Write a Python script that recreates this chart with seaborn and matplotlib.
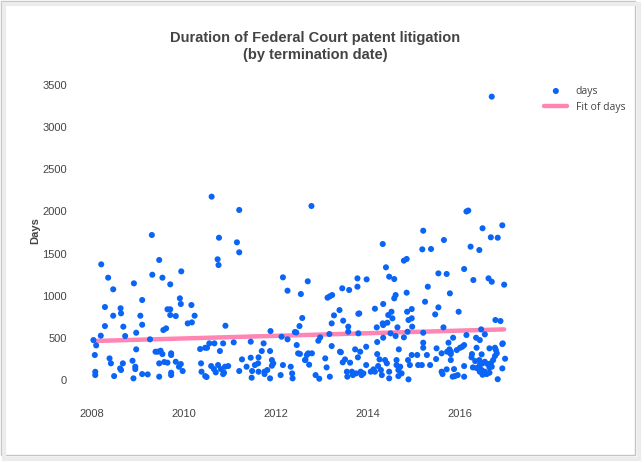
import matplotlib
matplotlib.use("Agg")
import matplotlib.pyplot as plt
import seaborn as sns
import pandas as pd
from matplotlib.patches import Rectangle

# termination date (decimal year) and duration in days
term_year = [
    2008.03, 2008.06, 2008.09, 2008.07, 2008.07, 2008.19, 2008.20, 2008.28, 2008.28, 2008.35,
    2008.38, 2008.41, 2008.46, 2008.46, 2008.48, 2008.61, 2008.62, 2008.63, 2008.63, 2008.68,
    2008.67, 2008.72, 2008.88, 2008.91, 2008.90, 2008.94, 2008.94, 2008.96, 2008.96, 2009.05,
    2009.09, 2009.09, 2009.09, 2009.21, 2009.26, 2009.30, 2009.31, 2009.38, 2009.43, 2009.46,
    2009.46, 2009.46, 2009.49, 2009.53, 2009.53, 2009.55, 2009.57, 2009.61, 2009.64, 2009.64,
    2009.70, 2009.70, 2009.70, 2009.72, 2009.72, 2009.72, 2009.72, 2009.82, 2009.82, 2009.89,
    2009.94, 2009.91, 2009.93, 2009.93, 2009.97, 2010.08, 2010.17, 2010.16, 2010.23, 2010.35,
    2010.37, 2010.38, 2010.46, 2010.49, 2010.46, 2010.50, 2010.55, 2010.60, 2010.59, 2010.66,
    2010.65, 2010.69, 2010.73, 2010.76, 2010.75, 2010.78, 2010.74, 2010.80, 2010.85, 2010.85,
    2010.87, 2010.90, 2010.89, 2010.96, 2011.08, 2011.15, 2011.20, 2011.20, 2011.20, 2011.26,
    2011.36, 2011.45, 2011.45, 2011.47, 2011.48, 2011.54, 2011.62, 2011.62, 2011.61, 2011.69,
    2011.73, 2011.75, 2011.75, 2011.81, 2011.87, 2011.88, 2011.87, 2011.91, 2011.91, 2011.94,
    2012.10, 2012.12, 2012.15, 2012.15, 2012.25, 2012.25, 2012.32, 2012.35, 2012.36, 2012.41,
    2012.44, 2012.45, 2012.48, 2012.52, 2012.51, 2012.54, 2012.57, 2012.63, 2012.64, 2012.67,
    2012.70, 2012.78, 2012.69, 2012.72, 2012.77, 2012.86, 2012.92, 2012.96, 2012.94, 2013.07,
    2013.10, 2013.12, 2013.17, 2013.22, 2013.16, 2013.17, 2013.21, 2013.21, 2013.26, 2013.38,
    2013.39, 2013.41, 2013.44, 2013.45, 2013.46, 2013.50, 2013.54, 2013.55, 2013.57, 2013.57,
    2013.59, 2013.61, 2013.65, 2013.67, 2013.72, 2013.74, 2013.77, 2013.77, 2013.79, 2013.81,
    2013.79, 2013.78, 2013.83, 2013.84, 2013.86, 2013.90, 2013.96, 2013.97, 2013.96, 2014.06,
    2014.12, 2014.15, 2014.15, 2014.19, 2014.20, 2014.20, 2014.22, 2014.25, 2014.28, 2014.30,
    2014.32, 2014.33, 2014.32, 2014.33, 2014.33, 2014.37, 2014.41, 2014.39, 2014.42, 2014.44,
    2014.46, 2014.46, 2014.46, 2014.49, 2014.51, 2014.53, 2014.57, 2014.57, 2014.60, 2014.60,
    2014.62, 2014.62, 2014.64, 2014.66, 2014.66, 2014.67, 2014.70, 2014.73, 2014.78, 2014.84,
    2014.78, 2014.84, 2014.85, 2014.88, 2014.86, 2014.87, 2014.88, 2014.91, 2014.95, 2014.95,
    2014.96, 2014.95, 2015.07, 2015.09, 2015.17, 2015.20, 2015.18, 2015.20, 2015.20, 2015.20,
    2015.24, 2015.28, 2015.30, 2015.35, 2015.37, 2015.46, 2015.48, 2015.49, 2015.53, 2015.53,
    2015.60, 2015.60, 2015.62, 2015.64, 2015.65, 2015.71, 2015.71, 2015.72, 2015.77, 2015.75,
    2015.78, 2015.97, 2016.09, 2016.14, 2016.18, 2016.23, 2016.29, 2016.42, 2016.49, 2016.62,
    2016.69, 2016.67, 2016.82, 2016.69, 2016.92, 2016.96, 2016.46, 2016.54, 2016.77, 2016.88,
    2016.93, 2016.14, 2016.35, 2016.43, 2016.00, 2016.09, 2016.05, 2015.85, 2015.80, 2015.80,
    2016.36, 2016.64, 2016.76, 2016.78, 2016.80, 2016.76, 2016.92, 2016.98, 2016.26, 2016.25,
    2015.93, 2016.47, 2015.80, 2016.33, 2016.42, 2016.43, 2016.49, 2016.54, 2016.60, 2016.67,
    2016.72, 2016.28, 2016.36, 2016.42, 2016.47, 2016.54, 2016.64, 2016.69, 2016.58, 2016.49,
    2016.43, 2016.64, 2016.92, 2016.09, 2015.87, 2015.84, 2015.89, 2015.95, 2016.09, 2016.82,
]
days = [
    474, 297, 411, 98, 59, 526, 1372, 866, 640, 1214,
    257, 198, 1076, 763, 47, 138, 851, 791, 119, 633,
    198, 522, 229, 1147, 20, 158, 130, 561, 364, 763,
    949, 656, 71, 67, 483, 1720, 1249, 336, 336, 1424,
    198, 40, 348, 1214, 308, 593, 214, 613, 839, 206,
    839, 1135, 771, 317, 297, 87, 59, 759, 217, 158,
    1289, 969, 902, 190, 107, 672, 684, 890, 763, 368,
    198, 99, 47, 36, 383, 383, 435, 2175, 166, 435,
    130, 91, 1432, 1688, 1364, 344, 178, 130, 435, 71,
    87, 644, 158, 166, 447, 1633, 2017, 1515, 107, 245,
    158, 455, 265, 28, 107, 178, 99, 269, 198, 344,
    435, 99, 71, 119, 344, 581, 20, 170, 237, 198,
    59, 514, 178, 1218, 483, 1060, 158, 79, 20, 569,
    565, 415, 317, 310, 640, 1020, 736, 237, 240, 297,
    317, 317, 1171, 182, 2064, 59, 466, 506, 16, 257,
    150, 977, 993, 1008, 546, 40, 403, 672, 767, 830,
    336, 330, 1088, 210, 704, 245, 99, 40, 633, 573,
    1068, 206, 99, 59, 364, 79, 1107, 1206, 786, 790,
    554, 269, 336, 99, 59, 79, 395, 1194, 178, 99,
    127, 99, 846, 625, 451, 308, 166, 245, 119, 59,
    1613, 902, 672, 652, 502, 237, 198, 1337, 680, 771,
    1226, 99, 20, 554, 810, 732, 1198, 969, 1008, 522,
    237, 178, 625, 119, 47, 364, 158, 79, 1416, 1436,
    506, 1036, 810, 712, 573, 237, 8, 178, 732, 842,
    633, 297, 297, 178, 178, 1771, 1550, 561, 443, 383,
    929, 297, 1107, 178, 1554, 779, 249, 376, 1265, 862,
    317, 99, 71, 625, 1661, 1258, 127, 336, 364, 443,
    1028, 810, 1317, 1999, 2010, 1582, 1186, 1542, 1800, 1206,
    1166, 1693, 1688, 3361, 1835, 1131, 601, 542, 712, 700,
    435, 534, 502, 474, 383, 415, 395, 502, 336, 308,
    383, 376, 383, 356, 317, 285, 427, 253, 308, 269,
    356, 305, 237, 225, 237, 178, 198, 217, 190, 198,
    237, 150, 142, 150, 119, 99, 150, 158, 71, 63,
    99, 87, 138, 166, 130, 40, 47, 59, 40, 10,
]

# linear fit line, end points
fit_year = [2008.03, 2016.96]
fit_days = [463, 601]

x_ticks = [2008, 2010, 2012, 2014, 2016]
y_ticks = [0, 500, 1000, 1500, 2000, 2500, 3000, 3500]

df = pd.DataFrame({"year": term_year, "days": days})
fit = pd.DataFrame({"year": fit_year, "days": fit_days})

sns.set_style("white")
plt.rcParams["font.family"] = ["Liberation Sans", "DejaVu Sans"]

fig = plt.figure(figsize=(6.44, 4.63), dpi=100)
ax = fig.add_axes([0.1165, 0.1533, 0.6835, 0.6957])

blue = "#0a64f5"
pink = "#ff85b3"

sns.lineplot(data=fit, x="year", y="days", ax=ax, color=pink, linewidth=3.2,
             label="Fit of days", zorder=2)
sns.scatterplot(data=df, x="year", y="days", ax=ax, color=blue, s=19,
                edgecolor="none", label="days", zorder=3)

ax.set_xlim(2007.63, 2017.2)
ax.set_ylim(-142, 3678)
ax.set_xticks(x_ticks)
ax.set_xticklabels([str(t) for t in x_ticks])
ax.set_yticks(y_ticks)
ax.tick_params(axis="both", length=0, labelsize=8, labelcolor="#444444")
ax.tick_params(axis="x", pad=12)
ax.tick_params(axis="y", pad=6)
for s in ax.spines.values():
    s.set_visible(False)
ax.set_xlabel("")
ax.set_ylabel("Days", fontsize=8, fontweight="bold", color="#444444", labelpad=1)

fig.suptitle("Duration of Federal Court patent litigation\n(by termination date)",
             x=0.49, y=0.934, fontsize=10.5, fontweight="bold", color="#444444",
             linespacing=1.35)

handles, labels = ax.get_legend_handles_labels()
order = [labels.index("days"), labels.index("Fit of days")]
leg = ax.legend([handles[i] for i in order], [labels[i] for i in order],
                loc="upper left", bbox_to_anchor=(1.045, 0.98), frameon=False,
                handlelength=2.2, labelspacing=0.5,
                prop={"family": "Open Sans", "size": 7.5})
for t in leg.get_texts():
    t.set_color("#444444")

# screenshot-style frame with a soft shadow on the right and bottom
fig.patches.append(Rectangle((0.006, 0.008), 0.986, 0.984, transform=fig.transFigure,
                             facecolor="none", edgecolor="#ececec", linewidth=3, zorder=0))
fig.patches.append(Rectangle((0.001, 0.018), 0.985, 0.98, transform=fig.transFigure,
                             facecolor="white", edgecolor="#c4c4c4", linewidth=1, zorder=-1))

fig.savefig("out.png", dpi=100)
